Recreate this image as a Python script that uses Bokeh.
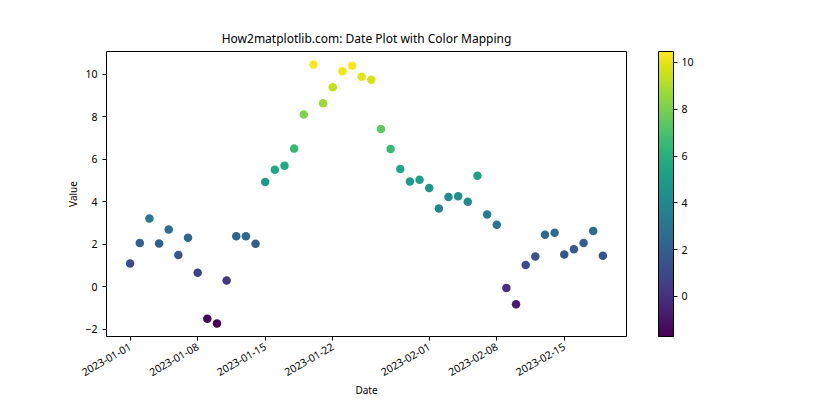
import math
import pandas as pd
from bokeh.plotting import figure
from bokeh.models import (LinearColorMapper, ColorBar, FixedTicker, DatetimeTickFormatter,
                          ColumnDataSource, Range1d)
from bokeh.palettes import Viridis256
from bokeh.embed import file_html
from bokeh.resources import INLINE

# Data
dates = pd.date_range("2023-01-01", periods=50, freq="D")
values = [1.11, 2.07, 3.22, 2.05, 2.71, 1.50, 2.32, 0.67, -1.50, -1.72,
          0.31, 2.39, 2.39, 2.03, 4.94, 5.52, 5.71, 6.51, 8.12, 10.47,
          8.65, 9.40, 10.15, 10.41, 9.89, 9.75, 7.43, 6.49, 5.55, 4.96,
          5.05, 4.66, 3.69, 4.23, 4.27, 4.01, 5.23, 3.41, 2.93, -0.05,
          -0.81, 1.03, 1.44, 2.46, 2.55, 1.53, 1.77, 2.07, 2.63, 1.47]
x_tick_labels = ["2023-01-01", "2023-01-08", "2023-01-15", "2023-01-22",
                 "2023-02-01", "2023-02-08", "2023-02-15"]
y_ticks = [-2, 0, 2, 4, 6, 8, 10]
cbar_ticks = [0, 2, 4, 6, 8, 10]

FONT = "Noto Sans"

src = ColumnDataSource(dict(date=dates, value=values))
vmin, vmax = min(values), max(values)
mapper = LinearColorMapper(palette=Viridis256, low=vmin, high=vmax)

day = 86400000.0
t0 = pd.Timestamp("2023-01-01").value / 1e6
span = 49 * day
yspan = vmax - vmin

p = figure(width=824, height=404, frame_width=520, frame_height=285,
           output_backend="svg", toolbar_location=None,
           x_axis_type="datetime",
           x_range=Range1d(t0 - 0.05 * span, t0 + 1.05 * span),
           y_range=Range1d(vmin - 0.05 * yspan, vmax + 0.05 * yspan),
           title="How2matplotlib.com: Date Plot with Color Mapping",
           min_border_left=106, min_border_right=198, min_border_top=51, min_border_bottom=68)

p.scatter("date", "value", source=src, size=8.5,
          fill_color={"field": "value", "transform": mapper}, line_color=None)

p.title.align = "center"
p.title.text_font = FONT
p.title.text_font_size = "12px"
p.title.text_font_style = "normal"
p.title.text_color = "black"

p.xgrid.visible = False
p.ygrid.visible = False
p.outline_line_color = "black"
p.outline_line_width = 1
p.outline_line_alpha = 1

p.xaxis.ticker = FixedTicker(ticks=[pd.Timestamp(d).value / 1e6 for d in x_tick_labels])
p.xaxis.formatter = DatetimeTickFormatter(days="%Y-%m-%d", months="%Y-%m-%d", hours="%Y-%m-%d")
p.xaxis.major_label_orientation = math.pi / 6
p.yaxis.ticker = FixedTicker(ticks=y_ticks)
p.xaxis.axis_label = "Date"
p.yaxis.axis_label = "Value"
p.xaxis.axis_label_standoff = 0
p.yaxis.axis_label_standoff = 2

for ax in (p.xaxis, p.yaxis):
    ax.axis_label_text_font = FONT
    ax.axis_label_text_font_size = "10px"
    ax.axis_label_text_font_style = "normal"
    ax.axis_label_text_color = "black"
    ax.major_label_text_font = FONT
    ax.major_label_text_font_size = "10.5px"
    ax.major_tick_in = 0
    ax.major_tick_out = 4
    ax.minor_tick_in = 0
    ax.minor_tick_out = 0
    ax.axis_line_color = None
    ax.major_tick_line_color = "black"
    ax.major_label_text_color = "black"

cb = ColorBar(color_mapper=mapper, width=15, height=285, ticker=FixedTicker(ticks=cbar_ticks),
              location=(552, 0),
              major_tick_in=0, major_tick_out=4, major_tick_line_color="black",
              bar_line_color="black", major_label_text_font=FONT,
              major_label_text_font_size="10.5px", major_label_text_color="black",
              padding=0, margin=0,
              border_line_color=None, background_fill_color=None,
              label_standoff=4, minor_tick_line_color=None)
p.add_layout(cb, "center")

open("out.html", "w").write(file_html(p, INLINE))
